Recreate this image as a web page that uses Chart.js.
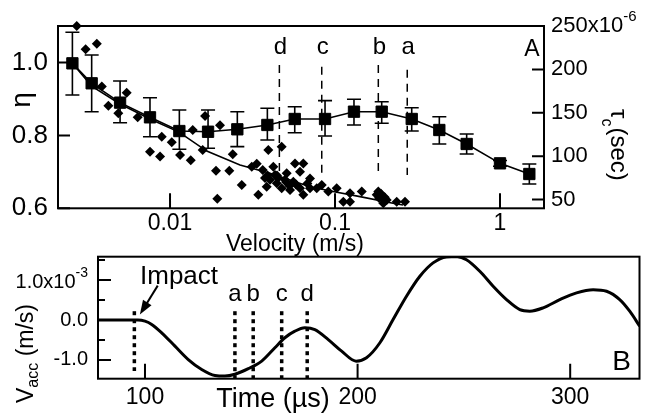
<!DOCTYPE html>
<html>
<head>
<meta charset="utf-8">
<script src="https://cdn.jsdelivr.net/npm/chart.js@4.4.0/dist/chart.umd.min.js"></script>
<style>
  body { margin: 0; background: #fff; }
  canvas { position: absolute; left: 0; }
</style>
</head>
<body>
<canvas id="panelA" width="658" height="262" style="top:0"></canvas>
<canvas id="panelB" width="658" height="164" style="top:250px"></canvas>
<script>
// --- Panel A: eta (diamonds) and tau_c (squares) vs impact velocity ---
const scatterVel = [0.00272, 0.00308, 0.00360, 0.00386, 0.00546, 0.00423, 0.00486, 0.00637, 0.00891, 0.01024,
  0.00756, 0.00870, 0.01150, 0.01335, 0.01373, 0.01630, 0.02009, 0.01578, 0.02399, 0.01900,
  0.02288, 0.02720, 0.01935, 0.03128, 0.03354, 0.03646, 0.03429, 0.03855, 0.03943, 0.04753,
  0.04227, 0.04327, 0.04036, 0.04433, 0.04753, 0.05094, 0.05723, 0.06425, 0.06136, 0.05588,
  0.06136, 0.06425, 0.07054, 0.07054, 0.07748, 0.08310, 0.09110, 0.10240, 0.11230, 0.12330,
  0.12330, 0.14520, 0.17890, 0.19190, 0.20570, 0.19620, 0.23660, 0.26560, 0.18300, 0.04514,
  0.04977, 0.05338, 0.03765, 0.0445, 0.0505, 0.0530, 0.0390, 0.1850, 0.1900, 0.2000, 0.0580, 0.0680];
const scatterEta = [1.100, 1.036, 1.051, 0.934, 0.917, 0.881, 0.861, 0.850, 0.796, 0.781,
  0.755, 0.742, 0.746, 0.732, 0.815, 0.853, 0.828, 0.760, 0.748, 0.703,
  0.703, 0.664, 0.626, 0.714, 0.722, 0.705, 0.637, 0.659, 0.760, 0.769,
  0.714, 0.691, 0.678, 0.669, 0.655, 0.696, 0.723, 0.723, 0.700, 0.673,
  0.655, 0.637, 0.682, 0.655, 0.655, 0.664, 0.646, 0.655, 0.618, 0.641,
  0.618, 0.646, 0.637, 0.632, 0.623, 0.614, 0.618, 0.618, 0.646, 0.683,
  0.678, 0.650, 0.683, 0.690, 0.672, 0.662, 0.690, 0.628, 0.640, 0.630, 0.665, 0.668];

// binned eta (line without markers)
const etaFitVel = [0.00256, 0.00335, 0.00498, 0.00756, 0.01134, 0.01669, 0.02656, 0.04036, 0.07054, 0.0973, 0.1418, 0.2246, 0.2583];
const etaFitVal = [0.998, 0.935, 0.886, 0.845, 0.809, 0.757, 0.719, 0.696, 0.659, 0.646, 0.632, 0.614, 0.609];

// tau_c in units of 1e-6 s
const tauVel = [0.00256, 0.00335, 0.00498, 0.00756, 0.01139, 0.0170, 0.02558, 0.0389, 0.0570, 0.0870, 0.1303, 0.1919, 0.2917, 0.4288, 0.628, 1.0, 1.506];
const tauVal = [207.0, 184.0, 161.7, 144.8, 129.0, 128.2, 131.0, 136.0, 142.9, 142.9, 151.3, 151.3, 142.9, 130.2, 114.1, 91.8, 79.5];
const tauHigh = [242.8, 216.6, 186.6, 167.4, 153.2, 153.2, 151.3, 155.2, 157.0, 164.0, 165.6, 162.8, 155.9, 145.5, 125.6, 95.0, 91.0];
const tauLow = [170.5, 151.3, 138.6, 122.5, 108.0, 109.1, 111.0, 118.7, 127.1, 123.3, 136.0, 137.9, 129.0, 114.1, 102.6, 88.5, 68.0];

// velocities marked a-d
const markLabels = ['a', 'b', 'c', 'd'];
const markVel = [0.274, 0.183, 0.0831, 0.0460];
const markTop = [0.980, 0.993, 0.988, 0.993];
const markBot = [0.691, 0.696, 0.687, 0.678];

const velTicks = [0.01, 0.1, 1];
const velTickLabels = ['0.01', '0.1', '1'];
const etaTicks = [0.6, 0.8, 1.0];
const tauTicks = [50, 100, 150, 200, 250];

// --- Panel B: accelerometer velocity vs time ---
const timeUs = [77, 85, 92, 96.7, 100, 103.15, 107.85, 114.1, 120.36, 126.66,
  132.9, 137.6, 142.3, 148.6, 154.9, 161.1, 165.8, 170.5, 175.2, 179.9,
  186.2, 192.5, 199.3, 204.2, 210.5, 216.7, 223.0, 229.3, 235.5, 241.8,
  246.5, 251.2, 257.5, 263.75, 270.05, 276.3, 281.0, 287.3, 295.1, 303.0,
  310.8, 317.1, 323.3, 328.0, 332.7];
// in units of 1e-3 m/s
const vAcc = [0, 0, 0, 0, -0.03, -0.11, -0.32, -0.655, -0.99, -1.24,
  -1.39, -1.405, -1.36, -1.22, -1.03, -0.695, -0.445, -0.28, -0.195, -0.24,
  -0.49, -0.78, -1.03, -0.945, -0.57, 0.01, 0.595, 1.095, 1.43, 1.58,
  1.59, 1.51, 1.22, 0.845, 0.51, 0.26, 0.22, 0.305, 0.51, 0.68,
  0.76, 0.72, 0.51, 0.22, -0.155];

const impactTime = 95;
const eventTimes = [142.3, 150.9, 164.3, 176.3];  // a, b, c, d
const timeTicks = [100, 200, 300];
const vTicks = [-1, 0, 1];
const vMinorTicks = [-0.5, 0.5, 1.5];

const FONT = '"Liberation Sans", Arial, Helvetica, sans-serif';
function font(px) { return px + 'px ' + FONT; }

// base text followed by a superscript
function drawSup(ctx, base, sup, x, y, size, supSize, rise, align) {
  ctx.font = font(size);
  const wb = ctx.measureText(base).width;
  ctx.font = font(supSize);
  const ws = ctx.measureText(sup).width;
  const x0 = align === 'right' ? x - wb - ws : x;
  ctx.textAlign = 'left';
  ctx.font = font(size);
  ctx.fillText(base, x0, y);
  ctx.font = font(supSize);
  ctx.fillText(sup, x0 + wb, y - rise);
}

function fixTicks(values) {
  return function(scale) { scale.ticks = values.map(v => ({ value: v })); };
}

function hiddenAxis(extra) {
  return Object.assign({
    ticks: { display: false },
    grid: { display: false },
    border: { display: false }
  }, extra);
}

const panelAPlugin = {
  id: 'panelAPlugin',
  afterDatasetsDraw(chart) {
    const { ctx, chartArea: a, scales } = chart;
    const x = scales.x, eta = scales.eta, tau = scales.tau;
    ctx.save();
    ctx.strokeStyle = '#000';
    ctx.fillStyle = '#000';

    // error bars on tau_c
    ctx.lineWidth = 1.6;
    tauVel.forEach((v, i) => {
      const px = x.getPixelForValue(v);
      const hi = tau.getPixelForValue(tauHigh[i]);
      const lo = tau.getPixelForValue(tauLow[i]);
      ctx.beginPath();
      ctx.moveTo(px, hi); ctx.lineTo(px, lo);
      ctx.moveTo(px - 7, hi); ctx.lineTo(px + 7, hi);
      ctx.moveTo(px - 7, lo); ctx.lineTo(px + 7, lo);
      ctx.stroke();
    });

    // frame and inner ticks
    ctx.lineWidth = 2;
    ctx.strokeRect(a.left, a.top, a.right - a.left, a.bottom - a.top);
    ctx.beginPath();
    x.ticks.forEach(t => {
      const px = x.getPixelForValue(t.value);
      ctx.moveTo(px, a.bottom); ctx.lineTo(px, a.bottom - 15);
    });
    eta.ticks.forEach(t => {
      const py = eta.getPixelForValue(t.value);
      ctx.moveTo(a.left, py); ctx.lineTo(a.left + 12, py);
    });
    tau.ticks.forEach(t => {
      const py = tau.getPixelForValue(t.value);
      ctx.moveTo(a.right, py); ctx.lineTo(a.right - 12, py);
    });
    ctx.stroke();

    // tick labels
    ctx.textBaseline = 'middle';
    ctx.textAlign = 'right';
    ctx.font = font(26);
    eta.ticks.forEach(t => ctx.fillText(t.value.toFixed(1), a.left - 10, eta.getPixelForValue(t.value)));

    ctx.textAlign = 'center';
    ctx.font = font(23);
    x.ticks.forEach((t, i) => ctx.fillText(velTickLabels[i], x.getPixelForValue(t.value), a.bottom + 15));

    tau.ticks.forEach(t => {
      const py = tau.getPixelForValue(t.value);
      if (t.value === 250) {
        drawSup(ctx, '250x10', '-6', a.right + 7, py, 22, 15, 9, 'left');
      } else {
        ctx.textAlign = 'left';
        ctx.font = font(22);
        ctx.fillText(String(t.value), a.right + 7, py);
      }
    });

    // axis titles
    ctx.textAlign = 'center';
    ctx.textBaseline = 'alphabetic';
    ctx.font = font(23);
    ctx.fillText('Velocity (m/s)', 295, a.bottom + 43);

    ctx.save();
    ctx.translate(22, 100);
    ctx.rotate(-Math.PI / 2);
    ctx.textBaseline = 'middle';
    ctx.font = font(28);
    ctx.fillText('\u03b7', 0, 0);
    ctx.restore();

    ctx.save();
    ctx.translate(611, 109);
    ctx.rotate(Math.PI / 2);
    ctx.textAlign = 'left';
    ctx.font = font(24);
    ctx.fillText('\u03c4', 0, 0);
    const wt = ctx.measureText('\u03c4').width;
    ctx.font = font(16);
    ctx.fillText('c', wt, 9);
    const wc = ctx.measureText('c').width;
    ctx.font = font(24);
    ctx.fillText('(sec)', wt + wc + 1, 0);
    ctx.restore();

    // letters over the marked velocities and panel letter
    ctx.textBaseline = 'middle';
    ctx.font = font(24);
    markVel.forEach((v, i) => ctx.fillText(markLabels[i], x.getPixelForValue(v) + 1, 47));
    ctx.font = font(23);
    ctx.fillText('A', a.right - 12, 50);
    ctx.restore();
  }
};

new Chart(document.getElementById('panelA'), {
  type: 'scatter',
  data: {
    datasets: [
      {
        label: 'tau_c',
        data: tauVel.map((v, i) => ({ x: v, y: tauVal[i] })),
        yAxisID: 'tau',
        showLine: true,
        borderColor: '#000',
        borderWidth: 1.6,
        backgroundColor: '#000',
        pointStyle: 'rect',
        pointRadius: 8,
        pointBorderWidth: 1
      },
      {
        label: 'eta',
        data: scatterVel.map((v, i) => ({ x: v, y: scatterEta[i] })),
        yAxisID: 'eta',
        backgroundColor: '#000',
        borderColor: '#000',
        pointStyle: 'rectRot',
        pointRadius: 5,
        pointBorderWidth: 0,
        clip: false
      },
      {
        label: 'eta binned',
        data: etaFitVel.map((v, i) => ({ x: v, y: etaFitVal[i] })),
        yAxisID: 'eta',
        showLine: true,
        borderColor: '#000',
        borderWidth: 1.6,
        pointRadius: 0
      },
      ...markVel.map((v, i) => ({
        label: markLabels[i],
        data: [{ x: v, y: markTop[i] }, { x: v, y: markBot[i] }],
        yAxisID: 'eta',
        showLine: true,
        borderColor: '#000',
        borderWidth: 1.5,
        borderDash: [8, 6],
        pointRadius: 0
      }))
    ]
  },
  options: {
    responsive: false,
    animation: false,
    events: [],
    layout: { padding: { top: 26, left: 0, right: 0, bottom: 0 } },
    plugins: { legend: { display: false }, tooltip: { enabled: false } },
    scales: {
      x: hiddenAxis({ type: 'logarithmic', min: 0.002094, max: 1.848, afterBuildTicks: fixTicks(velTicks), afterFit: s => { s.height = 53.7; } }),
      eta: hiddenAxis({ type: 'linear', position: 'left', min: 0.6, max: 1.1, afterBuildTicks: fixTicks(etaTicks), afterFit: s => { s.width = 58; } }),
      tau: hiddenAxis({ type: 'linear', position: 'right', min: 40, max: 250, afterBuildTicks: fixTicks(tauTicks), afterFit: s => { s.width = 114; } })
    }
  },
  plugins: [panelAPlugin]
});

const panelBPlugin = {
  id: 'panelBPlugin',
  afterDatasetsDraw(chart) {
    const { ctx, chartArea: a, scales } = chart;
    const x = scales.x, y = scales.y;
    ctx.save();
    ctx.strokeStyle = '#000';
    ctx.fillStyle = '#000';

    ctx.lineWidth = 2;
    ctx.strokeRect(a.left, a.top, a.right - a.left, a.bottom - a.top);
    ctx.beginPath();
    x.ticks.forEach(t => {
      const px = x.getPixelForValue(t.value);
      ctx.moveTo(px, a.bottom); ctx.lineTo(px, a.bottom - 15);
    });
    y.ticks.forEach(t => {
      const py = y.getPixelForValue(t.value);
      ctx.moveTo(a.left, py); ctx.lineTo(a.left + (t.major ? 13 : 7), py);
    });
    ctx.stroke();

    // tick labels
    ctx.textBaseline = 'middle';
    y.ticks.filter(t => t.major).forEach(t => {
      const py = y.getPixelForValue(t.value);
      if (t.value === 1) {
        drawSup(ctx, '1.0x10', '-3', a.left - 10, py + 2, 20, 14, 9, 'right');
      } else {
        ctx.textAlign = 'right';
        ctx.font = font(20);
        ctx.fillText(t.value.toFixed(1), a.left - 10, py);
      }
    });
    ctx.textAlign = 'center';
    ctx.font = font(23);
    x.ticks.forEach(t => ctx.fillText(String(t.value), x.getPixelForValue(t.value), a.bottom + 19));

    // axis titles
    ctx.textBaseline = 'alphabetic';
    ctx.font = font(27);
    ctx.fillText('Time (\u00b5s)', 273, a.bottom + 28);

    ctx.save();
    ctx.translate(33, 153);
    ctx.rotate(-Math.PI / 2);
    ctx.textAlign = 'left';
    ctx.font = font(23);
    ctx.fillText('V', 0, 0);
    const wv = ctx.measureText('V').width;
    ctx.font = font(16);
    ctx.fillText('acc', wv, 5);
    const wa = ctx.measureText('acc').width;
    ctx.font = font(23);
    ctx.fillText(' (m/s)', wv + wa, 0);
    ctx.restore();

    // impact arrow
    const x0 = x.getPixelForValue(106), y0 = y.getPixelForValue(0.86);
    const x1 = x.getPixelForValue(97.6), y1 = y.getPixelForValue(0.14);
    const ang = Math.atan2(y1 - y0, x1 - x0);
    ctx.lineWidth = 2;
    ctx.beginPath();
    ctx.moveTo(x0, y0);
    ctx.lineTo(x1 - 10 * Math.cos(ang), y1 - 10 * Math.sin(ang));
    ctx.stroke();
    ctx.beginPath();
    ctx.moveTo(x1, y1);
    ctx.lineTo(x1 - 14 * Math.cos(ang) + 5 * Math.sin(ang), y1 - 14 * Math.sin(ang) - 5 * Math.cos(ang));
    ctx.lineTo(x1 - 14 * Math.cos(ang) - 5 * Math.sin(ang), y1 - 14 * Math.sin(ang) + 5 * Math.cos(ang));
    ctx.closePath();
    ctx.fill();

    ctx.textAlign = 'left';
    ctx.font = font(26);
    ctx.fillText('Impact', 140, a.top + 27);

    ctx.textAlign = 'center';
    ctx.font = font(24);
    eventTimes.forEach((t, i) => ctx.fillText(markLabels[i], x.getPixelForValue(t), a.top + 44));

    ctx.font = font(28);
    ctx.fillText('B', a.right - 18, a.bottom - 9);
    ctx.restore();
  }
};

new Chart(document.getElementById('panelB'), {
  type: 'scatter',
  data: {
    datasets: [
      {
        label: 'Vacc',
        data: timeUs.map((t, i) => ({ x: t, y: vAcc[i] })),
        showLine: true,
        borderColor: '#000',
        borderWidth: 3,
        pointRadius: 0,
        cubicInterpolationMode: 'monotone'
      },
      {
        label: 'impact',
        data: [{ x: impactTime, y: 0.22 }, { x: impactTime, y: -1.28 }],
        showLine: true,
        borderColor: '#000',
        borderWidth: 3.5,
        borderDash: [4, 4],
        pointRadius: 0
      },
      ...eventTimes.map((t, i) => ({
        label: markLabels[i],
        data: [{ x: t, y: 0.22 }, { x: t, y: -1.47 }],
        showLine: true,
        borderColor: '#000',
        borderWidth: 3.5,
        borderDash: [4, 4],
        pointRadius: 0
      }))
    ]
  },
  options: {
    responsive: false,
    animation: false,
    events: [],
    layout: { padding: { top: 6.7, left: 0, right: 18.5, bottom: 0 } },
    plugins: { legend: { display: false }, tooltip: { enabled: false } },
    scales: {
      x: hiddenAxis({ type: 'linear', min: 77.9, max: 332.6, afterBuildTicks: fixTicks(timeTicks), afterFit: s => { s.height = 35.3; } }),
      y: hiddenAxis({
        type: 'linear', position: 'left', min: -1.47, max: 1.585,
        afterBuildTicks: s => {
          s.ticks = vTicks.concat(vMinorTicks).sort((p, q) => p - q)
            .map(v => ({ value: v, major: vTicks.includes(v) }));
        },
        afterFit: s => { s.width = 98; }
      })
    }
  },
  plugins: [panelBPlugin]
});
</script>
</body>
</html>
